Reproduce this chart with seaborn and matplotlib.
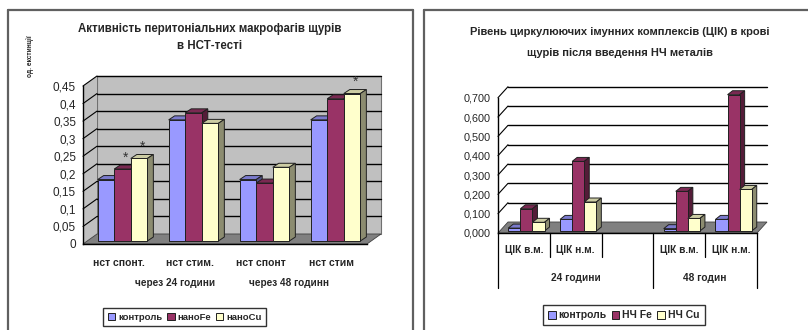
import numpy as np
import pandas as pd
import matplotlib
matplotlib.use("Agg")
import matplotlib.pyplot as plt
import matplotlib.transforms as mtransforms
from matplotlib.patches import Polygon, Rectangle
from matplotlib.lines import Line2D
import seaborn as sns

# ---------------- data: left panel (NBT test) ----------------
nst_categories = ["нст спонт.", "нст стим.", "нст спонт", "нст стим"]
nst_periods = ["через 24 години", "через 48 годинн"]
nst_series = ["контроль", "наноFe", "наноCu"]
nst_control = [0.175, 0.345, 0.175, 0.345]
nst_nano_fe = [0.205, 0.365, 0.165, 0.405]
nst_nano_cu = [0.235, 0.335, 0.21, 0.42]
nst_yticks = [0, 0.05, 0.1, 0.15, 0.2, 0.25, 0.3, 0.35, 0.4, 0.45]
nst_ytick_labels = ["0", "0,05", "0,1", "0,15", "0,2", "0,25", "0,3", "0,35", "0,4", "0,45"]
nst_marked = [(0, "наноFe"), (0, "наноCu"), (3, "наноCu")]

# ---------------- data: right panel (circulating immune complexes) ----------------
cic_periods = ["24 години", "24 години", "24 години", "48 годин", "48 годин"]
cic_labels = ["ЦІК в.м.", "ЦІК н.м.", "", "ЦІК в.м.", "ЦІК н.м."]
cic_series = ["контроль", "НЧ Fe", "НЧ Cu"]
cic_control = [0.015, 0.06, None, 0.012, 0.06]
cic_fe = [0.115, 0.36, None, 0.205, 0.705]
cic_cu = [0.045, 0.15, None, 0.065, 0.215]
cic_yticks = [0, 0.1, 0.2, 0.3, 0.4, 0.5, 0.6, 0.7]
cic_ytick_labels = ["0,000", "0,100", "0,200", "0,300", "0,400", "0,500", "0,600", "0,700"]

colors = ["#9999FF", "#993366", "#FFFFCC"]

W, H = 808, 330
sns.set_style("white")
plt.rcParams["font.family"] = ["Liberation Sans Narrow", "Liberation Sans", "DejaVu Sans"]
plt.rcParams["font.weight"] = "bold"

fig = plt.figure(figsize=(W / 100, H / 100), dpi=100)
fig.patch.set_facecolor("white")


def fy(py):
    return 1 - py / H


def shade(c, f):
    r, g, b = matplotlib.colors.to_rgb(c)
    return (r * f, g * f, b * f)


def long_table(keys, series, columns):
    rows = []
    for name, vals in zip(series, columns):
        for k, v in zip(keys, vals):
            if v is not None:
                rows.append({"cat": k, "series": name, "value": v})
    return pd.DataFrame(rows)


def extrude(ax, bars, off, depth, sx, sy):
    """Give the flat bars a front offset and a top/side face."""
    ox, oy = off[0] / sx, off[1] / sy
    bx, by = depth[0] / sx, depth[1] / sy
    bars = sorted(bars, key=lambda p: p.get_x())
    tops = []
    for i, p in enumerate(bars):
        x, w, h = p.get_x() + ox, p.get_width(), p.get_height()
        fc = p.get_facecolor()
        p.set_x(x)
        p.set_y(oy)
        z = 3 + i * 0.01
        p.set_zorder(z + 0.003)
        p.set_clip_on(False)
        top = Polygon([(x, oy + h), (x + bx, oy + h + by), (x + w + bx, oy + h + by), (x + w, oy + h)],
                      closed=True, facecolor=shade(fc, 0.8), edgecolor="#202020", lw=0.7,
                      zorder=z, clip_on=False)
        side = Polygon([(x + w, oy), (x + w + bx, oy + by), (x + w + bx, oy + h + by), (x + w, oy + h)],
                       closed=True, facecolor=shade(fc, 0.55), edgecolor="#202020", lw=0.7,
                       zorder=z, clip_on=False)
        ax.add_patch(top)
        ax.add_patch(side)
        tops.append((x + w / 2 + bx / 2, oy + h + by))
    return tops


def box3d(ax, x0, x1, ymax, ticks, dx, dy, wall, floor, edge):
    # back wall, side wall and floor of the 3-D box
    ax.add_patch(Polygon([(x0 + dx, dy), (x1 + dx, dy), (x1 + dx, ymax + dy), (x0 + dx, ymax + dy)],
                         facecolor=wall, edgecolor=edge, lw=0.8, zorder=0.5, clip_on=False))
    ax.add_patch(Polygon([(x0, 0), (x0, ymax), (x0 + dx, ymax + dy), (x0 + dx, dy)],
                         facecolor=wall, edgecolor="none", zorder=0.5, clip_on=False))
    for t in ticks[1:]:
        ax.add_line(Line2D([x0 + dx, x1 + dx], [t + dy, t + dy], color="black", lw=1.0,
                           zorder=1, clip_on=False))
        ax.add_line(Line2D([x0, x0 + dx], [t, t + dy], color="black", lw=0.8,
                           zorder=1, clip_on=False))
    ax.add_patch(Polygon([(x0, 0), (x1, 0), (x1 + dx, dy), (x0 + dx, dy)],
                         facecolor=floor, edgecolor="#404040", lw=0.6, zorder=1.5, clip_on=False))


# ======================= left panel =======================
axL = fig.add_axes([83 / W, fy(244), 284 / W, 158 / H])
axL.patch.set_alpha(0)
dfL = long_table(nst_categories, nst_series, [nst_control, nst_nano_fe, nst_nano_cu])
sns.barplot(data=dfL, x="cat", y="value", hue="series", order=nst_categories,
            hue_order=nst_series, palette=colors, width=0.7, errorbar=None,
            edgecolor="#202020", linewidth=0.7, saturation=1, legend=False, ax=axL)
barsL = list(axL.patches)
axL.set_xlim(-0.5, 3.5)
axL.set_ylim(0, 0.45)
sxL, syL = 284 / 4.0, 158 / 0.45
box3d(axL, -0.5, 3.5, 0.45, nst_yticks, 14 / sxL, 10 / syL, "#C0C0C0", "#808080", "#707070")
topsL = extrude(axL, barsL, (4, 3), (6, 4), sxL, syL)

for s in ["top", "right"]:
    axL.spines[s].set_visible(False)
for s in ["left", "bottom"]:
    axL.spines[s].set_color("black")
    axL.spines[s].set_linewidth(1.0)
    axL.spines[s].set_zorder(2)
axL.set_yticks(nst_yticks, nst_ytick_labels, fontsize=8.5, fontweight="normal")
axL.tick_params(axis="y", direction="out", length=3, width=0.8, color="black", pad=2)
axL.set_xticks(range(4), nst_categories, fontsize=7.5, fontweight="bold")
axL.set_xticks([0.5, 1.5, 2.5, 3.5], minor=True)
axL.tick_params(axis="x", which="major", length=0, pad=10)
axL.tick_params(axis="x", which="minor", direction="out", length=3, width=0.8)
axL.set_xlabel("")
axL.set_ylabel("")
axL.grid(False)

trL = mtransforms.blended_transform_factory(axL.transData, fig.transFigure)
axL.text(0.8, fy(283), nst_periods[0], transform=trL, ha="center", va="center", fontsize=7.2)
axL.text(2.4, fy(283), nst_periods[1], transform=trL, ha="center", va="center", fontsize=7.2)

# significance marks
order_keys = [(c, s) for c in range(4) for s in nst_series]
for (c, s) in nst_marked:
    cx, ty = topsL[order_keys.index((c, s))]
    axL.text(cx, ty + 0.002, "*", ha="center", va="bottom", fontsize=10, fontweight="normal",
             color="#333333", zorder=6)

fig.text(210 / W, fy(29), "Активність перитоніальних макрофагів щурів", ha="center", va="center",
         fontsize=8.3)
fig.text(210 / W, fy(46), "в НСТ-тесті", ha="center", va="center", fontsize=8.3)
fig.text(30 / W, fy(56), "од. екстинції", rotation=90, ha="center", va="center", fontsize=4.8)

hL = [Rectangle((0, 0), 1, 1, facecolor=c, edgecolor="#202020", lw=0.7) for c in colors]
legL = fig.legend(hL, nst_series, loc="upper left", bbox_to_anchor=(103 / W, fy(308)),
                  ncol=3, fontsize=6.8, frameon=True, fancybox=False, handlelength=0.8,
                  handleheight=0.8, handletextpad=0.3, columnspacing=0.5, borderpad=0.5,
                  borderaxespad=0)
legL.get_frame().set_edgecolor("black")
legL.get_frame().set_linewidth(1.0)

# ======================= right panel =======================
keysR = [f"{p}|{l}" for p, l in zip(cic_periods, cic_labels)]
axR = fig.add_axes([498 / W, fy(233), 259 / W, 135.3 / H])
axR.patch.set_alpha(0)
dfR = long_table(keysR, cic_series, [cic_control, cic_fe, cic_cu])
sns.barplot(data=dfR, x="cat", y="value", hue="series", order=keysR,
            hue_order=cic_series, palette=colors, width=0.7, errorbar=None,
            edgecolor="#202020", linewidth=0.7, saturation=1, legend=False, ax=axR)
barsR = list(axR.patches)
axR.set_xlim(-0.5, 4.5)
axR.set_ylim(0, 0.7)
sxR, syR = 259 / 5.0, 135.3 / 0.7
box3d(axR, -0.5, 4.5, 0.7, cic_yticks, 10 / sxR, 11 / syR, "white", "#808080", "none")
extrude(axR, barsR, (2.5, 2), (5, 4), sxR, syR)

for s in ["top", "right"]:
    axR.spines[s].set_visible(False)
for s in ["left", "bottom"]:
    axR.spines[s].set_color("black")
    axR.spines[s].set_linewidth(1.0)
    axR.spines[s].set_zorder(2)
axR.set_yticks(cic_yticks, cic_ytick_labels, fontsize=7.8, fontweight="normal")
axR.tick_params(axis="y", direction="out", length=3, width=0.8, color="black", pad=2)
axR.set_xticks([])
axR.set_xlabel("")
axR.set_ylabel("")
axR.grid(False)

trR = mtransforms.blended_transform_factory(axR.transData, fig.transFigure)
for i, lab in enumerate(cic_labels):
    axR.text(i, fy(250), lab, transform=trR, ha="center", va="center", fontsize=7.3)
periods_unique = list(dict.fromkeys(cic_periods))
bounds = [-0.5]
for i in range(1, len(cic_periods)):
    if cic_periods[i] != cic_periods[i - 1]:
        bounds.append(i - 0.5)
bounds.append(len(cic_periods) - 0.5)
for i in range(len(cic_periods) + 1):
    xb = i - 0.5
    bottom = 288 if xb in bounds else 257
    axR.add_line(Line2D([xb, xb], [fy(233), fy(bottom)], transform=trR, color="black",
                        lw=0.9, clip_on=False))
for j, per in enumerate(periods_unique):
    axR.text((bounds[j] + bounds[j + 1]) / 2, fy(278), per, transform=trR, ha="center",
             va="center", fontsize=7.3)

fig.text(620 / W, fy(32), "Рівень циркулюючих імунних комплексів (ЦІК) в крові",
         ha="center", va="center", fontsize=8)
fig.text(620 / W, fy(53), "щурів після введення НЧ металів", ha="center", va="center",
         fontsize=8)

hR = [Rectangle((0, 0), 1, 1, facecolor=c, edgecolor="#202020", lw=0.7) for c in colors]
legR = fig.legend(hR, cic_series, loc="upper left", bbox_to_anchor=(543 / W, fy(305)),
                  ncol=3, frameon=True, fancybox=False, handlelength=0.7,
                  handleheight=0.8, handletextpad=0.3, columnspacing=0.5, borderpad=0.5,
                  borderaxespad=0, prop={"weight": "bold", "size": 7.5})
legR.get_frame().set_edgecolor("black")
legR.get_frame().set_linewidth(1.0)

# panel frames
frame_kw = dict(color="#606060", lw=1.6, transform=fig.transFigure)
fig.add_artist(Line2D([8 / W, 413 / W], [fy(10), fy(10)], **frame_kw))
fig.add_artist(Line2D([8 / W, 8 / W], [fy(10), 0], **frame_kw))
fig.add_artist(Line2D([413 / W, 413 / W], [fy(10), 0], **frame_kw))
fig.add_artist(Line2D([424 / W, 424 / W], [fy(10), 0], **frame_kw))
fig.add_artist(Line2D([424 / W, 1], [fy(10), fy(10)], **frame_kw))

fig.savefig("out.png", dpi=100)
